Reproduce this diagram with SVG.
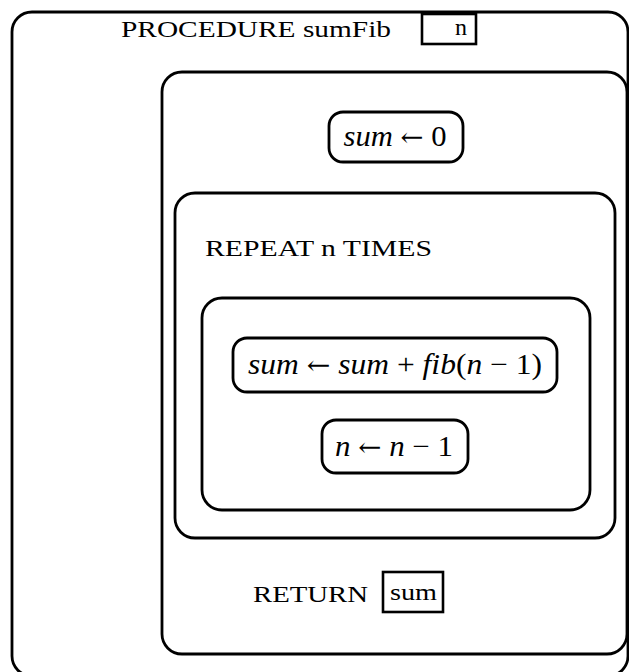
<svg xmlns="http://www.w3.org/2000/svg" width="629" height="672" viewBox="0 0 629 672">
<style>
.box{fill:none;stroke:#000;stroke-width:2.8}
.sq{fill:none;stroke:#000;stroke-width:2.6}
.t{font-family:"Liberation Serif","DejaVu Serif",serif;font-size:24px;fill:#000}
.m{font-family:"Liberation Serif","DejaVu Serif",serif;font-size:29px;fill:#000}
.i{font-style:italic}
.a{font-family:"DejaVu Serif",serif;font-size:26px}
</style>
<rect width="629" height="672" fill="#fff"/>
<g id="procedure">
<rect class="box" x="12" y="12" width="616" height="664" rx="20" ry="20"/>
<text class="t" x="121" y="37" textLength="270" lengthAdjust="spacingAndGlyphs">PROCEDURE sumFib</text>
</g>
<g id="param-n">
<rect class="sq" x="422" y="14" width="54" height="30"/>
<text class="t" x="455" y="35">n</text>
</g>
<g id="body">
<rect class="box" x="162" y="72" width="465" height="582" rx="20" ry="20"/>
</g>
<g id="init">
<rect class="box" x="329" y="112" width="134" height="50" rx="14" ry="14"/>
<text class="m" x="395" y="146" text-anchor="middle" textLength="103" lengthAdjust="spacingAndGlyphs"><tspan class="i">sum</tspan> <tspan class="a">←</tspan> 0</text>
</g>
<g id="repeat">
<rect class="box" x="175" y="193" width="440" height="345" rx="20" ry="20"/>
<text class="t" x="205" y="256" textLength="227" lengthAdjust="spacingAndGlyphs">REPEAT n TIMES</text>
</g>
<g id="loop-body">
<rect class="box" x="202" y="298" width="388" height="212" rx="20" ry="20"/>
</g>
<g id="update-sum">
<rect class="box" x="233" y="338" width="324" height="54" rx="14" ry="14"/>
<text class="m" x="395" y="374" text-anchor="middle" textLength="294" lengthAdjust="spacingAndGlyphs"><tspan class="i">sum</tspan> <tspan class="a">←</tspan> <tspan class="i">sum</tspan> + <tspan class="i">fib</tspan>(<tspan class="i">n</tspan> − 1)</text>
</g>
<g id="decrement">
<rect class="box" x="322" y="420" width="146" height="53" rx="14" ry="14"/>
<text class="m" x="394" y="456" text-anchor="middle" textLength="118" lengthAdjust="spacingAndGlyphs"><tspan class="i">n</tspan> <tspan class="a">←</tspan> <tspan class="i">n</tspan> − 1</text>
</g>
<g id="return">
<text class="t" x="253" y="602" textLength="115" lengthAdjust="spacingAndGlyphs">RETURN</text>
<rect class="sq" x="383" y="572" width="60" height="40"/>
<text class="t" x="390" y="600" textLength="47" lengthAdjust="spacingAndGlyphs">sum</text>
</g>
<g id="connectors"></g>
</svg>
